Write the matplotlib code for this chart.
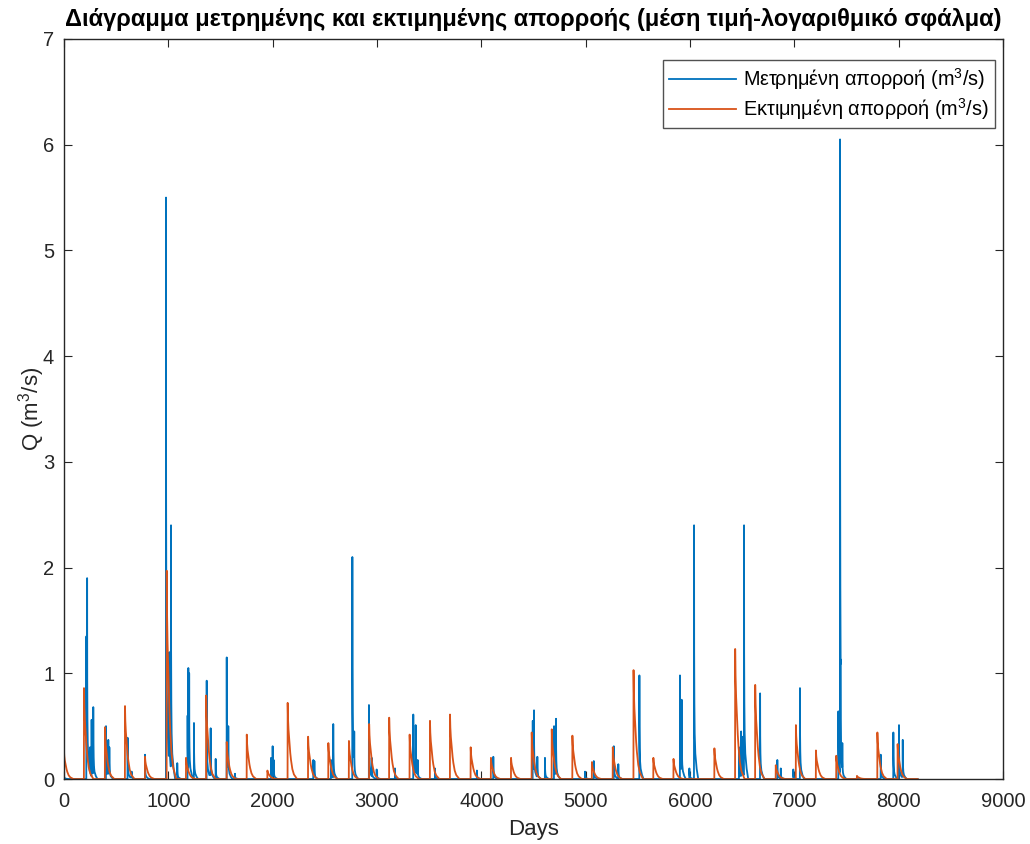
import numpy as np
import matplotlib
matplotlib.use('Agg')
import matplotlib.pyplot as plt

plt.rcParams['font.family'] = ['Liberation Sans', 'DejaVu Sans']
plt.rcParams['mathtext.fontset'] = 'custom'
plt.rcParams['mathtext.rm'] = 'Liberation Sans'
plt.rcParams['mathtext.it'] = 'Liberation Sans:italic'

measured_days = [0, 215, 222, 250, 265, 281, 403, 425, 435, 610, 649, 777, 978, 1010, 1026,
                 1086, 1185, 1192, 1200, 1246, 1368, 1406, 1454, 1560, 1575, 1639, 1985, 2000,
                 2010, 2390, 2400, 2559, 2581, 2764, 2782, 2923, 2950, 2997, 3173, 3348, 3371,
                 3390, 3556, 3958, 4115, 4493, 4505, 4537, 4610, 4697, 4716, 4994, 5078, 5270,
                 5313, 5515, 5904, 5920, 5994, 6039, 6470, 6490, 6500, 6518, 6672, 6837, 6870,
                 6990, 7054, 7422, 7438, 7445, 7460, 7828, 7949, 8003, 8039]
measured_peaks = [0.05, 1.35, 1.9, 0.3, 0.56, 0.68, 0.50, 0.37, 0.30, 0.39, 0.07, 0.23, 5.5, 1.2, 2.4,
                  0.15, 0.6, 1.05, 1.0, 0.53, 0.93, 0.48, 0.19, 1.15, 0.5, 0.05, 0.2, 0.31,
                  0.18, 0.18, 0.17, 0.18, 0.52, 2.1, 0.45, 0.70, 0.2, 0.09, 0.1, 0.61, 0.51,
                  0.18, 0.1, 0.08, 0.21, 0.55, 0.65, 0.21, 0.2, 0.5, 0.57, 0.07, 0.17, 0.31,
                  0.14, 0.98, 0.98, 0.75, 0.1, 2.4, 0.3, 0.45, 0.4, 2.4, 0.81, 0.18, 0.1,
                  0.09, 0.86, 0.64, 6.05, 1.13, 0.34, 0.23, 0.44, 0.51, 0.37]

# estimated runoff events
estimated_days = [0, 192, 393, 585, 777, 985, 1170, 1363, 1560, 1752, 1950, 2144, 2340, 2534,
                  2731, 2925, 3117, 3313, 3508, 3700, 3898, 4092, 4285, 4483, 4675, 4873, 5060,
                  5260, 5459, 5649, 5842, 6234, 6433, 6625, 6822, 7015, 7207, 7402, 7600, 7796,
                  7990]
estimated_peaks = [0.27, 0.86, 0.49, 0.69, 0.21, 1.97, 0.20, 0.79, 0.35, 0.42, 0.08, 0.72, 0.40,
                   0.34, 0.36, 0.52, 0.58, 0.42, 0.55, 0.61, 0.30, 0.20, 0.20, 0.44, 0.47, 0.41,
                   0.16, 0.30, 1.03, 0.20, 0.19, 0.29, 1.23, 0.89, 0.13, 0.51, 0.27, 0.22, 0.03,
                   0.44, 0.33]

# recession shapes after a peak (days after peak, fraction of peak)
measured_rec_days = [0, 1, 3, 6, 12, 25, 40]
measured_rec_frac = [1, 0.5, 0.3, 0.18, 0.1, 0.04, 0.0]
estimated_rec_days = [0, 3, 8, 16, 25, 32, 45, 60, 90]
estimated_rec_frac = [1, 0.8, 0.65, 0.5, 0.34, 0.25, 0.13, 0.06, 0.0]

last_day = 8182


def event_line(days, peaks, rec_days, rec_frac, end):
    xs, ys = [], []
    for i, (d, p) in enumerate(zip(days, peaks)):
        nxt = days[i + 1] if i + 1 < len(days) else end
        if xs and d - 1 > xs[-1]:
            xs.append(d - 1)
            ys.append(ys[-1])
        for t, f in zip(rec_days, rec_frac):
            if d + t < nxt:
                xs.append(d + t)
                ys.append(p * f)
    xs.append(end)
    ys.append(ys[-1])
    return xs, ys


mx, my = event_line(measured_days, measured_peaks, measured_rec_days, measured_rec_frac, last_day)
ex, ey = event_line(estimated_days, estimated_peaks, estimated_rec_days, estimated_rec_frac, last_day)

fig = plt.figure(figsize=(10.3, 8.44), dpi=100)
ax = fig.add_axes([0.0621, 0.0770, 0.9117, 0.8768])
ax.plot(mx, my, color='#0072BD', lw=1.3, label='Μετρημένη απορροή (m$^3$/s)')
ax.plot(ex, ey, color='#D95319', lw=1.3, label='Εκτιμημένη απορροή (m$^3$/s)')

ax.set_xlim(0, 9000)
ax.set_ylim(0, 7)
ax.set_xticks(np.arange(0, 9001, 1000))
ax.set_yticks(np.arange(0, 8, 1))
ax.tick_params(direction='in', top=True, right=True, labelsize=14.5, colors='#262626', length=6)
ax.tick_params(axis='x', pad=9)
ax.tick_params(axis='y', pad=7)
for s in ax.spines.values():
    s.set_color('#262626')
    s.set_linewidth(1.0)
ax.set_xlabel('Days', fontsize=16, color='#262626', labelpad=6)
ax.set_ylabel('Q (m$^3$/s)', fontsize=16, color='#262626', labelpad=-3)
ax.set_title('Διάγραμμα μετρημένης και εκτιμημένης απορροής (μέση τιμή-λογαριθμικό σφάλμα)',
             fontsize=17, fontweight='bold', pad=9)
leg = ax.legend(loc='upper right', bbox_to_anchor=(0.9915, 0.9716), borderaxespad=0,
                fontsize=14.3, fancybox=False, edgecolor='#262626', handlelength=3.4,
                labelspacing=0.2, borderpad=0.3, handletextpad=0.35)
leg.get_frame().set_linewidth(1.0)

fig.savefig('out.png', dpi=100)
